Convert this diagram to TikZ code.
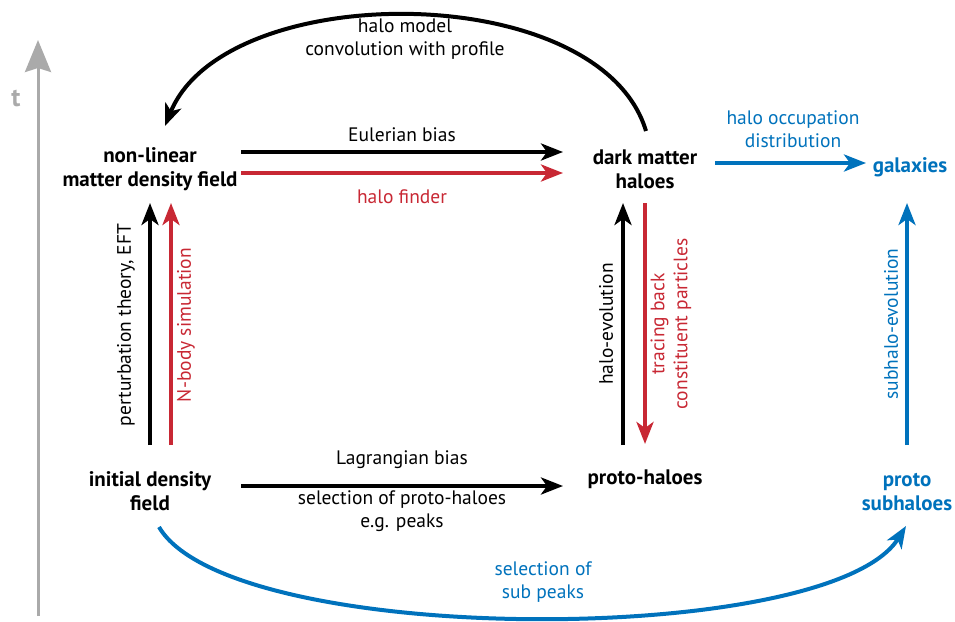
\documentclass[tikz,border=0pt]{standalone}
\usepackage{fontspec}
\setmainfont{PT Sans}
\usetikzlibrary{arrows.meta}
\definecolor{myred}{RGB}{200,40,52}
\definecolor{myblue}{RGB}{0,114,188}
\definecolor{mygray}{RGB}{170,170,170}
\tikzset{
  lbl/.style={font=\fontsize{19.5}{23}\selectfont, align=center, inner sep=0pt},
  box/.style={font=\fontsize{21}{24}\selectfont\bfseries, align=center, inner sep=0pt},
  arr/.style={line width=4pt, -{Stealth[length=22pt,width=17pt,inset=6pt]}},
}
\begin{document}
\begin{tikzpicture}[x=1pt,y=-1pt]
\useasboundingbox (0,0) rectangle (955,621);
% time axis
\coordinate (tb) at (38,616);
\coordinate (tt) at (38,40);
\draw[mygray, line width=3pt, -{Stealth[length=32pt,width=26pt,inset=4pt]}] (tb) -- (tt);
\node[font=\fontsize{26}{26}\selectfont\bfseries, text=mygray, inner sep=0pt] (t) at (16,98) {t};

% nodes
\node[box] (nl) at (150,169) {non-linear\\matter density field};
\node[box] (dm) at (645,169) {dark matter\\haloes};
\node[box, text=myblue] (gal) at (910,167) {galaxies};
\node[box] (ini) at (150,491) {initial density\\field};
\node[box] (ph) at (645,479) {proto-haloes};
\node[box, text=myblue] (psh) at (907,492) {proto\\subhaloes};

% anchor coordinates
\coordinate (e1) at (241,152); \coordinate (e2) at (563,152);
\coordinate (h1) at (241,173); \coordinate (h2) at (563,173);
\coordinate (l1) at (241,486); \coordinate (l2) at (563,486);
\coordinate (o1) at (715,163); \coordinate (o2) at (866,163);
\coordinate (pb) at (150,445); \coordinate (pt) at (150,203);
\coordinate (nb) at (171,445); \coordinate (nt) at (171,203);
\coordinate (hb) at (623,445); \coordinate (ht) at (623,203);
\coordinate (rt) at (645,203); \coordinate (rb) at (645,444);
\coordinate (sb) at (907,445); \coordinate (st) at (907,203);
\coordinate (a1) at (646,131); \coordinate (a2) at (165,126);
\coordinate (b1) at (159,527); \coordinate (b2) at (906,526);

% horizontal arrows
\draw[arr] (e1) -- (e2);
\node[lbl] (eb) at (402,135) {Eulerian bias};
\draw[arr, myred] (h1) -- (h2);
\node[lbl, text=myred] (hf) at (402,197) {halo finder};
\draw[arr] (l1) -- (l2);
\node[lbl] (lb) at (402,460) {Lagrangian bias};
\node[lbl] (sp) at (402,511) {selection of proto-haloes\\e.g. peaks};
\draw[arr, myblue] (o1) -- (o2);
\node[lbl, text=myblue] (ho) at (793,129) {halo occupation\\distribution};

% vertical arrows
\draw[arr] (pb) -- (pt);
\node[lbl, rotate=90] (pte) at (126,325) {perturbation theory, EFT};
\draw[arr, myred] (nb) -- (nt);
\node[lbl, rotate=90, text=myred] (nbs) at (186,325) {N-body simulation};
\draw[arr] (hb) -- (ht);
\node[lbl, rotate=90] (hev) at (606,324) {halo-evolution};
\draw[arr, myred] (rt) -- (rb);
\node[lbl, rotate=90, text=myred] (tbk) at (671,324) {tracing back\\constituent particles};
\draw[arr, myblue] (sb) -- (st);
\node[lbl, rotate=90, text=myblue] (sev) at (891,324) {subhalo-evolution};

% curved arrows
\draw[arr] (a1) .. controls (600,-22) and (225,-22) .. (a2);
\node[lbl] (hm) at (405,39) {halo model\\convolution with profile};
\draw[arr, myblue] (b1) .. controls (230,648) and (830,648) .. (b2);
\node[lbl, text=myblue] (ssp) at (543,582) {selection of\\sub peaks};
\end{tikzpicture}
\end{document}
